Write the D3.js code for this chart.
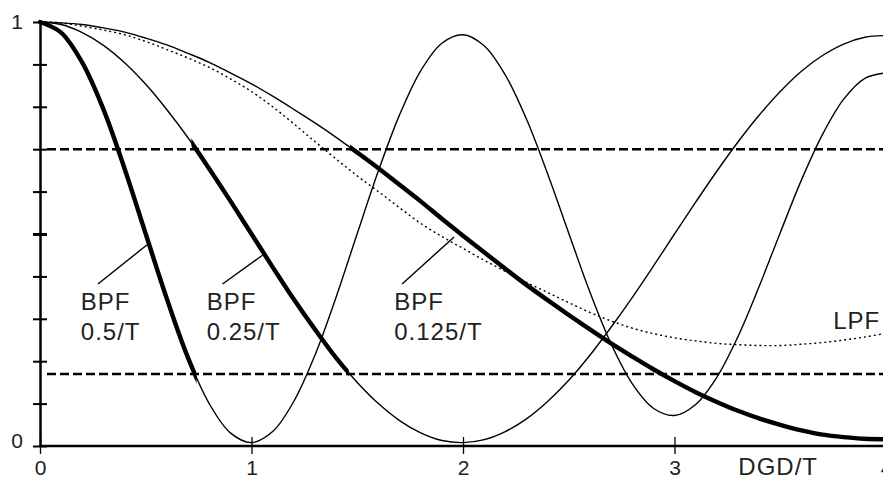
<!DOCTYPE html>
<html>
<head>
<meta charset="utf-8">
<script src="https://cdn.jsdelivr.net/npm/d3@7"></script>
<style>
  body { margin: 0; background: #fff; overflow: hidden; }
  svg { display: block; }
  text { font-family: "Liberation Sans", Arial, sans-serif; }
</style>
</head>
<body>
<div id="wrapper"></div>
<script>
// DGD/T sample points
const dgd = [0, 0.1, 0.2, 0.3, 0.4, 0.5, 0.6, 0.7, 0.8, 0.9,
  1, 1.1, 1.2, 1.3, 1.4, 1.5, 1.6, 1.7, 1.8, 1.9,
  2, 2.1, 2.2, 2.3, 2.4, 2.5, 2.6, 2.7, 2.8, 2.9,
  3, 3.1, 3.2, 3.3, 3.4, 3.5, 3.6, 3.7, 3.8, 3.9, 4];

const bpf05 = [1.000, 0.975, 0.904, 0.794, 0.654, 0.500, 0.347, 0.208, 0.100, 0.031,
  0.008, 0.034, 0.105, 0.214, 0.351, 0.501, 0.649, 0.781, 0.885, 0.950,
  0.970, 0.944, 0.875, 0.771, 0.642, 0.502, 0.363, 0.241, 0.147, 0.089,
  0.072, 0.098, 0.162, 0.258, 0.376, 0.503, 0.627, 0.735, 0.818, 0.867, 0.880];

const bpf025 = [1.000, 0.994, 0.975, 0.945, 0.904, 0.853, 0.793, 0.727, 0.654, 0.578,
  0.500, 0.422, 0.346, 0.275, 0.208, 0.150, 0.100, 0.060, 0.031, 0.013,
  0.008, 0.015, 0.034, 0.064, 0.105, 0.155, 0.214, 0.280, 0.350, 0.424,
  0.500, 0.575, 0.648, 0.717, 0.780, 0.836, 0.884, 0.921, 0.948, 0.964, 0.968];

const bpf0125 = [1.000, 0.998, 0.994, 0.986, 0.976, 0.962, 0.946, 0.926, 0.905, 0.880,
  0.854, 0.825, 0.794, 0.762, 0.728, 0.692, 0.655, 0.616, 0.577, 0.536,
  0.496, 0.457, 0.418, 0.380, 0.344, 0.309, 0.275, 0.242, 0.211, 0.181,
  0.153, 0.127, 0.104, 0.083, 0.065, 0.050, 0.037, 0.027, 0.021, 0.017, 0.016];

const lpf = [1.000, 0.998, 0.990, 0.981, 0.970, 0.954, 0.935, 0.915, 0.893, 0.866,
  0.836, 0.800, 0.760, 0.718, 0.677, 0.637, 0.600, 0.562, 0.525, 0.494,
  0.466, 0.438, 0.412, 0.386, 0.362, 0.338, 0.315, 0.295, 0.278, 0.265,
  0.255, 0.248, 0.242, 0.239, 0.237, 0.237, 0.240, 0.244, 0.250, 0.257, 0.266];

// bold part of each band-pass curve (DGD/T range)
const boldSpans = [[0, 0.74], [0.73, 1.46], [1.48, 4]];

const xTicks = [0, 1, 2, 3, 4];
const yTicks = [0, 0.1, 0.2, 0.3, 0.4, 0.5, 0.6, 0.7, 0.8, 0.9, 1];
const yLabels = [0, 1];
const limitLevels = [0.7, 0.17];

const width = 883, height = 480;
const margin = { left: 40, top: 22, bottom: 34 };

const svg = d3.select('#wrapper').append('svg')
  .attr('width', width).attr('height', height);

const x = d3.scaleLinear().domain([0, 4]).range([margin.left, margin.left + 4 * 211.5]);
const y = d3.scaleLinear().domain([0, 1]).range([height - margin.bottom, margin.top]);

const line = d3.line()
  .x((d) => x(d[0]))
  .y((d) => y(d[1]))
  .curve(d3.curveCatmullRom.alpha(0.5));

const pairs = (vals) => dgd.map((v, i) => [v, vals[i]]);

// dashed limit lines
svg.selectAll('.limit').data(limitLevels).enter().append('line')
  .attr('class', 'limit')
  .attr('x1', x(0) + 7).attr('x2', width)
  .attr('y1', (d) => y(d)).attr('y2', (d) => y(d))
  .attr('stroke', '#000').attr('stroke-width', 2.5)
  .attr('stroke-dasharray', '9,4');

// LPF dotted
svg.append('path')
  .attr('d', line(pairs(lpf)))
  .attr('fill', 'none').attr('stroke', '#000')
  .attr('stroke-width', 1.4).attr('stroke-dasharray', '2,3');

const bands = [bpf05, bpf025, bpf0125];

bands.forEach((vals, i) => {
  svg.append('path')
    .attr('d', line(pairs(vals)))
    .attr('fill', 'none').attr('stroke', '#000').attr('stroke-width', 1.4);

  const span = boldSpans[i];
  svg.append('clipPath').attr('id', 'bold' + i)
    .append('rect')
    .attr('x', x(span[0]) - 3).attr('width', x(span[1]) - x(span[0]) + 3)
    .attr('y', 0).attr('height', height);

  svg.append('path')
    .attr('d', line(pairs(vals)))
    .attr('clip-path', `url(#bold${i})`)
    .attr('fill', 'none').attr('stroke', '#000')
    .attr('stroke-width', 4.4).attr('stroke-linecap', 'round');
});

// axes
const xAxis = svg.append('g')
  .attr('transform', `translate(0,${y(0)})`)
  .call(d3.axisBottom(x).tickValues(xTicks).tickSize(8).tickSizeOuter(0).tickPadding(6)
    .tickFormat(d3.format('d')));
xAxis.select('.domain').attr('stroke-width', 2.5).attr('d', `M${x(0)},0H${width}`);
xAxis.selectAll('.tick line').attr('y1', -9).attr('stroke-width', 1.3);
xAxis.selectAll('.tick text').attr('font-size', 21).attr('fill', '#222')
  .style('font-family', '"Liberation Sans", Arial, sans-serif');

const yAxis = svg.append('g')
  .attr('transform', `translate(${x(0)},0)`)
  .call(d3.axisLeft(y).tickValues(yTicks).tickSize(7).tickSizeOuter(0).tickPadding(10)
    .tickFormat((d) => (yLabels.includes(d) ? d3.format('d')(d) : '')));
yAxis.select('.domain').attr('stroke-width', 2.5);
yAxis.selectAll('.tick line').attr('x1', 7)
  .attr('stroke-width', (d) => (d === 0.5 ? 3 : 2));
yAxis.selectAll('.tick text').attr('font-size', 21).attr('fill', '#222')
  .style('font-family', '"Liberation Sans", Arial, sans-serif')
  .attr('transform', (d) => (d === 0 ? 'translate(0,-5)' : null));

// curve labels with leader lines
const notes = [
  { lines: ['BPF', '0.5/T'], at: [0.193, 0.321], from: [0.274, 0.382], to: [0.505, 0.474] },
  { lines: ['BPF', '0.25/T'], at: [0.788, 0.321], from: [0.863, 0.382], to: [1.052, 0.450] },
  { lines: ['BPF', '0.125/T'], at: [1.675, 0.321], from: [1.712, 0.382], to: [1.958, 0.493] },
];

notes.forEach((n) => {
  svg.append('line')
    .attr('x1', x(n.from[0])).attr('y1', y(n.from[1]))
    .attr('x2', x(n.to[0])).attr('y2', y(n.to[1]))
    .attr('stroke', '#000').attr('stroke-width', 1.4);
  n.lines.forEach((t, k) => {
    svg.append('text')
      .attr('x', x(n.at[0])).attr('y', y(n.at[1]) + k * 30)
      .attr('font-size', 24).attr('letter-spacing', 1).attr('fill', '#222')
      .text(t);
  });
});

svg.append('text')
  .attr('x', x(3.75)).attr('y', y(0.276))
  .attr('font-size', 24).attr('letter-spacing', 1).attr('fill', '#222')
  .text('LPF');

svg.append('text')
  .attr('x', x(3.302)).attr('y', y(0) + 29)
  .attr('font-size', 24).attr('letter-spacing', 1).attr('fill', '#222')
  .text('DGD/T');
</script>
</body>
</html>
